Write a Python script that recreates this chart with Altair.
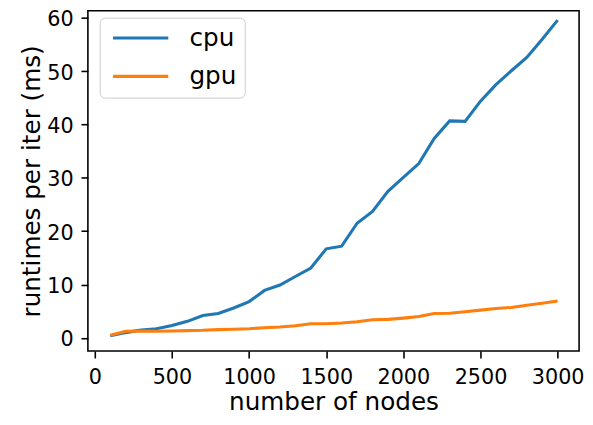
import altair as alt
import pandas as pd

nodes = [100, 200, 300, 400, 500, 600, 700, 800, 900, 1000,
         1100, 1200, 1300, 1400, 1500, 1600, 1700, 1800, 1900, 2000,
         2100, 2200, 2300, 2400, 2500, 2600, 2700, 2800, 2900, 3000]
cpu = [0.37, 0.98, 1.48, 1.72, 2.3, 3.1, 4.2, 4.56, 5.6, 6.8,
       8.9, 9.9, 11.5, 13.1, 16.7, 17.2, 21.5, 23.7, 27.5, 30.1,
       32.7, 37.4, 40.7, 40.6, 44.4, 47.5, 50.1, 52.6, 56.0, 59.6]
gpu = [0.5, 1.23, 1.29, 1.23, 1.29, 1.35, 1.41, 1.54, 1.6, 1.72,
       1.91, 2.04, 2.28, 2.65, 2.65, 2.77, 3.02, 3.4, 3.46, 3.7,
       4.0, 4.56, 4.6, 4.9, 5.2, 5.5, 5.7, 6.1, 6.5, 6.9]
series = ["cpu", "gpu"]
colors = ["#1f77b4", "#ff7f0e"]
x_ticks = [0, 500, 1000, 1500, 2000, 2500, 3000]
y_ticks = [0, 10, 20, 30, 40, 50, 60]

rows = []
for n, c, g in zip(nodes, cpu, gpu):
    rows.append({"nodes": n, "runtime": c, "device": "cpu"})
    rows.append({"nodes": n, "runtime": g, "device": "gpu"})
df = pd.DataFrame(rows)

FONT = "DejaVu Sans"

chart = alt.Chart(df).mark_line(strokeWidth=3.1).encode(
    x=alt.X("nodes:Q",
            scale=alt.Scale(domain=[-45, 3139], nice=False, zero=False),
            axis=alt.Axis(values=x_ticks, format="d", title="number of nodes", grid=False,
                          domain=False, tickColor="black", tickWidth=1.6, tickSize=7,
                          labelColor="black", labelFontSize=21, labelFont=FONT,
                          labelPadding=9, labelFlush=False,
                          titleFont=FONT, titleFontSize=25, titleFontWeight="normal",
                          titleColor="black", titlePadding=2)),
    y=alt.Y("runtime:Q",
            scale=alt.Scale(domain=[-2.48, 61.35], nice=False, zero=False),
            axis=alt.Axis(values=y_ticks, format="d", title="runtimes per iter (ms)", grid=False,
                          domain=False, tickColor="black", tickWidth=1.6, tickSize=7,
                          labelColor="black", labelFontSize=21, labelFont=FONT,
                          labelPadding=8, labelFlush=False, labelOffset=2,
                          titleFont=FONT, titleFontSize=25, titleFontWeight="normal",
                          titleColor="black", titlePadding=2)),
    color=alt.Color("device:N",
                    scale=alt.Scale(domain=series, range=colors),
                    legend=alt.Legend(title=None, orient="none", legendX=12, legendY=7,
                                      symbolType="M-1,0H7", symbolSize=196,
                                      symbolStrokeWidth=3.1, labelOffset=58,
                                      labelFont=FONT, labelFontSize=25, labelColor="black",
                                      rowPadding=13, padding=8,
                                      strokeColor="#cccccc", fillColor="rgba(255,255,255,0.8)",
                                      cornerRadius=5)),
).properties(
    width=498, height=345,
    padding={"left": 81, "top": 0, "right": 6, "bottom": 62},
    autosize=alt.AutoSizeParams(type="none"),
    background="white",
).configure_view(
    stroke="black", strokeWidth=1.6
)

chart.save("out.html", embed_options={"renderer": "svg", "actions": False})
